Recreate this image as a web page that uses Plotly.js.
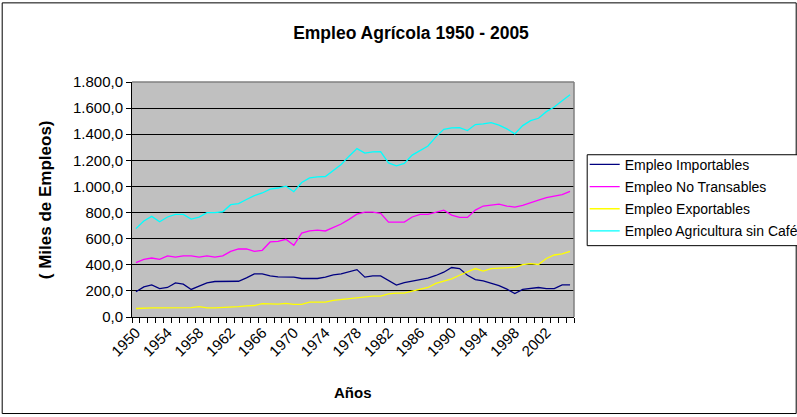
<!DOCTYPE html>
<html>
<head>
<meta charset="utf-8">
<script src="https://cdn.plot.ly/plotly-3.0.1.min.js"></script>
<style>
html,body{margin:0;padding:0;background:#fff;}
#chart{width:797px;height:417px;}
</style>
</head>
<body>
<div id="chart"></div>
<script>
const years = [1950,1951,1952,1953,1954,1955,1956,1957,1958,1959,
  1960,1961,1962,1963,1964,1965,1966,1967,1968,1969,
  1970,1971,1972,1973,1974,1975,1976,1977,1978,1979,
  1980,1981,1982,1983,1984,1985,1986,1987,1988,1989,
  1990,1991,1992,1993,1994,1995,1996,1997,1998,1999,
  2000,2001,2002,2003,2004,2005];

const empleoImportables = [193,231,246,218,226,261,251,211,236,261,
  272,274,277,274,300,330,330,315,307,305,
  305,295,295,295,305,322,330,348,363,305,
  315,315,279,244,264,277,287,297,318,343,
  379,371,320,287,277,259,241,213,180,211,
  218,226,218,218,246,246];

const empleoNoTransables = [417,442,452,442,468,458,468,468,458,468,
  458,468,503,521,521,503,511,575,580,595,
  549,643,659,666,659,687,712,748,788,804,
  804,794,727,727,727,766,786,786,804,819,
  781,763,763,819,850,860,865,850,842,855,
  878,895,914,926,937,962];

const empleoExportables = [65,70,70,70,70,70,70,72,80,70,
  70,72,78,80,85,88,102,98,99,104,
  96,96,114,114,114,127,134,142,144,152,
  160,160,177,183,183,198,211,226,257,277,
  292,320,345,371,351,371,374,379,381,402,
  409,402,448,475,483,503];

const empleoAgriculturaSinCafe = [677,735,771,730,766,786,786,750,765,799,
  799,806,860,868,900,929,950,980,988,1002,
  960,1030,1066,1074,1076,1125,1168,1232,1290,1256,
  1265,1267,1180,1158,1176,1240,1276,1310,1380,1438,
  1448,1450,1428,1474,1479,1489,1470,1441,1403,1466,
  1504,1522,1573,1608,1657,1703];

const seriesNames = ["Empleo Importables","Empleo No Transables","Empleo Exportables","Empleo Agricultura sin Café"];
const seriesColors = ["#000080","#FF00FF","#FFFF00","#00FFFF"];
const seriesValues = [empleoImportables, empleoNoTransables, empleoExportables, empleoAgriculturaSinCafe];
const labelYears = [1950,1954,1958,1962,1966,1970,1974,1978,1982,1986,1990,1994,1998,2002];

const W = 797, H = 417;
const L = 132.3, R = 574.3, T = 81.7, B = 316.9;
const pw = R - L, ph = B - T;
const px = v => (v - L) / pw;
const py = v => (B - v) / ph;

const traces = seriesNames.map((n, i) => ({
  x: years,
  y: seriesValues[i],
  type: 'scatter',
  mode: 'lines',
  name: n,
  legendgroup: 'g' + i,
  line: {color: seriesColors[i], width: 1.3},
  hoverinfo: 'x+y+name'
}));

const FONT = 'Liberation Sans, Arial, sans-serif';

const layout = {
  width: W, height: H,
  margin: {l: L, r: W - R, t: T, b: H - B, autoexpand: false},
  paper_bgcolor: '#ffffff',
  plot_bgcolor: '#C0C0C0',
  separators: ',.',
  font: {family: FONT, size: 15, color: '#000'},
  showlegend: true,
  title: {
    text: '<b>Empleo Agrícola 1950 - 2005</b>',
    font: {family: FONT, size: 17.5, color: '#000'},
    x: 411 / W, xanchor: 'center', xref: 'container',
    y: 1 - 33 / H, yanchor: 'middle', yref: 'container'
  },
  xaxis: {
    type: 'linear',
    range: [1949.5, 2005.5],
    tickmode: 'array',
    tickvals: labelYears,
    ticktext: labelYears.map(String),
    tickangle: -45,
    ticks: '',
    ticklen: 0,
    tickfont: {family: FONT, size: 15, color: '#000'},
    showgrid: false,
    zeroline: false,
    showline: true,
    linecolor: '#000',
    linewidth: 1,
    minor: {tick0: 1949.5, dtick: 1, ticks: 'outside', ticklen: 5, tickcolor: '#000', tickwidth: 1, showgrid: false},
    fixedrange: true
  },
  yaxis: {
    range: [0, 1800],
    tickmode: 'linear',
    tick0: 0, dtick: 200,
    tickformat: ',.1f',
    ticks: 'outside',
    ticklen: 5,
    tickcolor: '#000',
    tickfont: {family: FONT, size: 15, color: '#000'},
    showgrid: true,
    gridcolor: '#000',
    gridwidth: 1,
    zeroline: false,
    showline: true,
    linecolor: '#000',
    linewidth: 1,
    fixedrange: true
  },
  legend: {
    x: px(585), xanchor: 'left',
    y: py(148.5), yanchor: 'top',
    bgcolor: 'rgba(0,0,0,0)',
    borderwidth: 0,
    font: {family: FONT, size: 14, color: '#000'},
    tracegroupgap: 1,
    itemwidth: 30
  },
  annotations: [
    {text: '<b>( Miles de Empleos)</b>', textangle: -90, showarrow: false,
     xref: 'paper', yref: 'paper', x: px(46), y: 0.5, xanchor: 'center', yanchor: 'middle',
     font: {family: FONT, size: 17, color: '#000'}},
    {text: '<b>Años</b>', showarrow: false,
     xref: 'paper', yref: 'paper', x: 0.5, y: py(392), xanchor: 'center', yanchor: 'middle',
     font: {family: FONT, size: 15, color: '#000'}}
  ],
  shapes: [
    {type: 'line', xref: 'paper', yref: 'paper', x0: 0, x1: 1, y0: 1, y1: 1, line: {color: '#808080', width: 1.5}},
    {type: 'line', xref: 'paper', yref: 'paper', x0: 1, x1: 1, y0: 0, y1: 1, line: {color: '#808080', width: 1.5}},
    {type: 'rect', xref: 'paper', yref: 'paper', x0: px(2.5), x1: px(796.5), y0: py(413.5), y1: py(2.5), line: {color: '#000', width: 1}, layer: 'below'},
    {type: 'rect', xref: 'paper', yref: 'paper', x0: px(587.5), x1: px(805), y0: py(245.5), y1: py(154.5), fillcolor: '#ffffff', line: {color: '#000', width: 1}, layer: 'above'}
  ]
};

Plotly.newPlot('chart', traces, layout, {displayModeBar: false, staticPlot: true});
</script>
</body>
</html>
